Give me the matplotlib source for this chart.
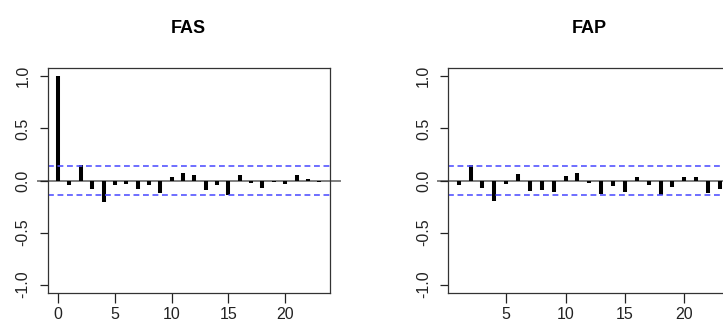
import matplotlib
matplotlib.use("Agg")
import matplotlib.pyplot as plt

plt.rcParams['font.family'] = ['Liberation Sans', 'DejaVu Sans']

acf_lags = list(range(0, 24))
acf_vals = [1.0, -0.04, 0.15, -0.085, -0.21, -0.04, -0.03, -0.085, -0.04, -0.12,
            0.03, 0.07, 0.05, -0.095, -0.045, -0.14, 0.05, -0.02, -0.075, -0.015,
            -0.035, 0.05, 0.015, -0.015]

pacf_lags = list(range(1, 24))
pacf_vals = [-0.04, 0.15, -0.075, -0.20, -0.035, 0.06, -0.105, -0.095, -0.115, 0.04,
             0.07, -0.025, -0.125, -0.055, -0.115, 0.03, -0.045, -0.135, -0.065, 0.035,
             0.03, -0.12, -0.085]

conf = 0.136
titles = ["FAS", "FAP"]
yticks = [-1.0, -0.5, 0.0, 0.5, 1.0]
ytick_labels = ["-1.0", "-0.5", "0.0", "0.5", "1.0"]
xticks = [0, 5, 10, 15, 20]

W, H = 723, 329
fig = plt.figure(figsize=(W / 100, H / 100), dpi=100)

panels = [
    (acf_lags, acf_vals, 47.7, (-0.92, 23.92)),
    (pacf_lags, pacf_vals, 448.3, (0.12, 23.88)),
]

for i, (lags, vals, left_px, xl) in enumerate(panels):
    ax = fig.add_axes([left_px / W, (H - 293) / H, 282 / W, 225 / H])
    ax.vlines(lags, 0, vals, colors='black', linewidth=2.9, capstyle='butt')
    ax.plot([-0.035, 1.035], [0, 0], transform=ax.get_yaxis_transform(),
            color='#7f7f7f', linewidth=1.4, clip_on=False, zorder=1)
    for c in (conf, -conf):
        ax.axhline(c, color='#5555ff', linewidth=1.2, linestyle=(0, (3.5, 2.2)))
    ax.set_xlim(*xl)
    ax.set_ylim(-1.08, 1.08)
    ax.set_yticks(yticks)
    ax.set_yticklabels(ytick_labels, rotation=90, va='center', fontsize=11.5, color='#222222')
    ax.set_xticks([t for t in xticks if xl[0] <= t <= xl[1]])
    ax.tick_params(axis='x', length=7, width=0.9, pad=3, labelsize=11.5, colors='#222222')
    ax.tick_params(axis='y', length=5.5, width=0.9, pad=7, colors='#222222')
    for s in ax.spines.values():
        s.set_color('#333333')
        s.set_linewidth(0.9)
    ax.set_title(titles[i], fontsize=13, fontweight='bold', pad=25.5)

fig.savefig("out.png", dpi=100)
